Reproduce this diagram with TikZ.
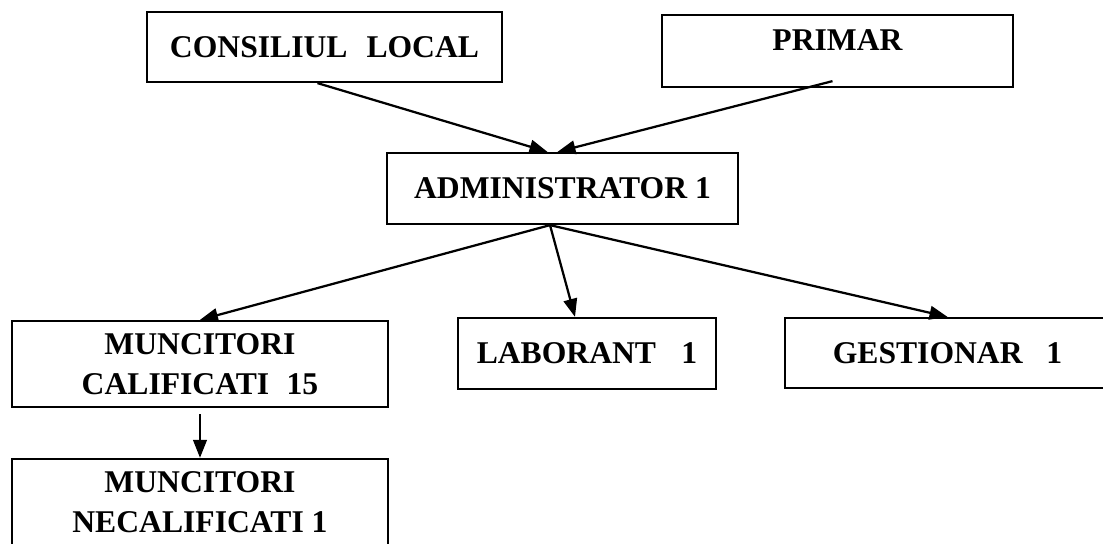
\documentclass[tikz,border=0pt]{standalone}
\usepackage{fontspec}
\setmainfont{Liberation Serif}
\usepackage{tikz}
\usetikzlibrary{arrows.meta,positioning,calc}

\begin{document}
\begin{tikzpicture}[x=0.025cm, y=0.025cm,
    post/.style={draw, line width=1.6pt, inner sep=0pt, align=center,
      font=\fontsize{22.5}{28.5}\selectfont\bfseries},
    link/.style={line width=1.6pt, -{Triangle[length=0.45cm,width=0.34cm]}}]
  \useasboundingbox (0,0) rectangle (1103,544);

  % Top level
  \node[post, minimum width=8.875cm, minimum height=1.75cm] (cons) at (324.5,497) {CONSILIUL\hspace{0.6em}LOCAL};
  \node[post, minimum width=8.775cm, minimum height=1.8cm, text depth=0.55cm] (prim) at (837.5,493) {PRIMAR};

  % Administrator
  \node[post, minimum width=8.775cm, minimum height=1.775cm] (admin) at (562.5,355.5) {ADMINISTRATOR 1};

  % Staff
  \node[post, minimum width=9.4cm, minimum height=2.15cm] (mcal) at (200,180) {MUNCITORI\\CALIFICATI\hspace{0.55em}15};
  \node[post, minimum width=6.45cm, minimum height=1.775cm] (lab) at (587,190.5) {LABORANT\hspace{0.8em}1};
  \node[post, minimum width=8.125cm, minimum height=1.75cm] (gest) at (947.5,191) {GESTIONAR\hspace{0.75em}1};
  \node[post, minimum width=9.4cm, minimum height=2.15cm] (mnec) at (200,42) {MUNCITORI\\NECALIFICATI 1};

  % Arrows
  \coordinate (cons-out) at ($(cons.south)+(-7,0)$);
  \coordinate (prim-out) at ($(prim.south)+(-5,7)$);
  \coordinate (adm-in1) at ($(admin.north)+(-15,0)$);
  \coordinate (adm-in2) at ($(admin.north)+(-5,0)$);
  \coordinate (adm-out) at ($(admin.south)+(-12.5,0)$);
  \coordinate (lab-in) at ($(lab.north)+(-12,0)$);
  \draw[link] (cons-out) -- (adm-in1);
  \draw[link] (prim-out) -- (adm-in2);
  \draw[link] (adm-out) -- (mcal.north);
  \draw[link] (adm-out) -- (lab-in);
  \draw[link] (adm-out) -- (gest.north);
  \draw[link, shorten <=0.15cm] (mcal) -- (mnec);
\end{tikzpicture}
\end{document}
